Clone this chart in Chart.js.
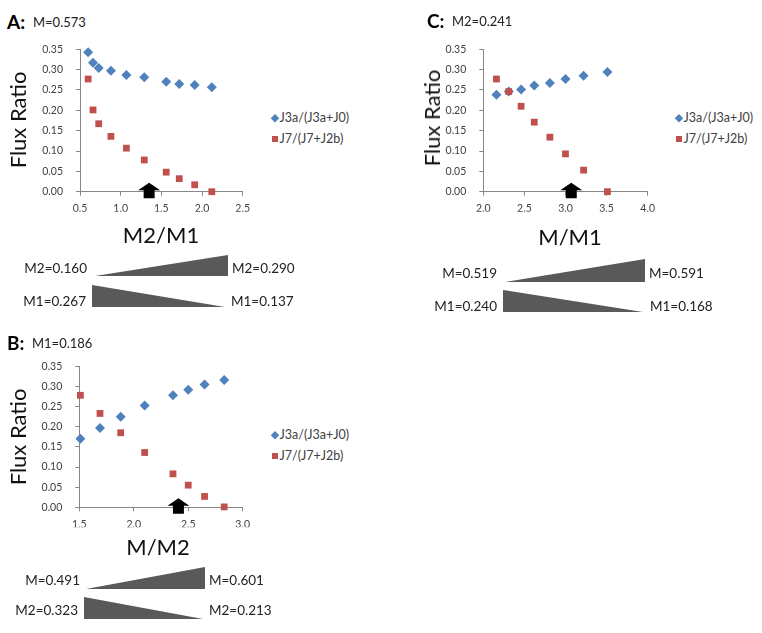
<!DOCTYPE html>
<html>
<head>
<meta charset="utf-8">
<script src="https://cdn.jsdelivr.net/npm/chart.js@4.4.0/dist/chart.umd.min.js"></script>
<style>
  body { margin: 0; background: #fff; width: 762px; height: 633px; position: relative; overflow: hidden; font-family: Lato, sans-serif; color: #222; }
  canvas { position: absolute; }
  .t { position: absolute; white-space: nowrap; line-height: 1; transform: translateY(-50%); }
  .r { transform: translate(-100%, -50%); }
  .c { transform: translate(-50%, -50%); }
  .v { transform: translate(-50%, -50%) rotate(-90deg); }
  .title { font-size: 19px; font-weight: bold; color: #000; }
  .sub { font-size: 13px; color: #222; }
  .axt { font-size: 22px; color: #111; }
  .wl { font-size: 13.5px; color: #222; }
  .lg { font-size: 12.5px; color: #404040; }
  .mk { position: absolute; width: 6px; height: 6px; transform: translate(-50%, -50%); }
  .mk.d { transform: translate(-50%, -50%) rotate(45deg); width: 5.5px; height: 5.5px; }
  svg { position: absolute; left: 0; top: 0; }
</style>
</head>
<body>

<svg width="762" height="633" id="wedges"></svg>

<canvas id="chartA"></canvas>
<canvas id="chartB"></canvas>
<canvas id="chartC"></canvas>

<!-- panel A -->
<div class="t title" style="left:7px;top:21px">A:</div>
<div class="t sub" style="left:33px;top:22px">M=0.573</div>
<div class="t v axt" style="left:18px;top:120px">Flux Ratio</div>
<div class="t c axt" style="left:161px;top:235px">M2/M1</div>
<div class="t r wl" style="left:87px;top:269px">M2=0.160</div>
<div class="t wl" style="left:232px;top:269px">M2=0.290</div>
<div class="t r wl" style="left:86px;top:302px">M1=0.267</div>
<div class="t wl" style="left:231px;top:302px">M1=0.137</div>

<!-- panel B -->
<div class="t title" style="left:7px;top:342px">B:</div>
<div class="t sub" style="left:32px;top:343px">M1=0.186</div>
<div class="t v axt" style="left:18px;top:437px">Flux Ratio</div>
<div class="t c axt" style="left:158px;top:547px">M/M2</div>
<div class="t r wl" style="left:80px;top:581px">M=0.491</div>
<div class="t wl" style="left:209px;top:581px">M=0.601</div>
<div class="t r wl" style="left:78px;top:611px">M2=0.323</div>
<div class="t wl" style="left:209px;top:611px">M2=0.213</div>

<!-- panel C -->
<div class="t title" style="left:427px;top:20px">C:</div>
<div class="t sub" style="left:452px;top:21px">M2=0.241</div>
<div class="t v axt" style="left:432px;top:118px">Flux Ratio</div>
<div class="t c axt" style="left:570px;top:237px">M/M1</div>
<div class="t r wl" style="left:497px;top:274px">M=0.519</div>
<div class="t wl" style="left:649px;top:274px">M=0.591</div>
<div class="t r wl" style="left:497px;top:307px">M1=0.240</div>
<div class="t wl" style="left:650px;top:307px">M1=0.168</div>

<div id="legends"></div>

<script>
// series labels
const seriesNames = ["J3a/(J3a+J0)", "J7/(J7+J2b)"];

// panel A: x = M2/M1
const aX   = [0.60, 0.66, 0.73, 0.88, 1.07, 1.29, 1.56, 1.72, 1.91, 2.12];
const aJ3a = [0.343, 0.317, 0.304, 0.297, 0.287, 0.281, 0.270, 0.265, 0.262, 0.257];
const aJ7  = [0.277, 0.201, 0.167, 0.136, 0.107, 0.078, 0.048, 0.032, 0.017, 0.000];
const aArrow = 1.35;

// panel B: x = M/M2
const bX   = [1.51, 1.69, 1.88, 2.10, 2.36, 2.50, 2.65, 2.83];
const bJ3a = [0.170, 0.197, 0.225, 0.253, 0.278, 0.292, 0.305, 0.316];
const bJ7  = [0.278, 0.233, 0.185, 0.136, 0.083, 0.055, 0.027, 0.001];
const bArrow = 2.41;

// panel C: x = M/M1
const cX   = [2.16, 2.31, 2.46, 2.62, 2.81, 3.00, 3.22, 3.51];
const cJ3a = [0.238, 0.246, 0.251, 0.261, 0.267, 0.277, 0.285, 0.294];
const cJ7  = [0.277, 0.246, 0.210, 0.171, 0.134, 0.093, 0.053, 0.000];
const cArrow = 3.07;

// axis ranges
const yRange = [0, 0.35];
const aRange = [0.5, 2.5];
const bRange = [1.5, 3.0];
const cRange = [2.0, 4.0];

const BLUE = "#4F81BD";
const RED  = "#C0504D";
const AXIS = "#868686";
const TICK = "#404040";

// black arrow sitting on the x axis
const arrowPlugin = {
  id: "arrow",
  afterDatasetsDraw(chart, args, opts) {
    const x = chart.scales.x.getPixelForValue(opts.value);
    const y = chart.scales.y.getPixelForValue(0);
    const ctx = chart.ctx;
    ctx.save();
    ctx.fillStyle = "#000";
    ctx.beginPath();
    ctx.moveTo(x, y - 9);
    ctx.lineTo(x + 11, y - 1.5);
    ctx.lineTo(x + 5.5, y - 1.5);
    ctx.lineTo(x + 5.5, y + 6.5);
    ctx.lineTo(x - 5.5, y + 6.5);
    ctx.lineTo(x - 5.5, y - 1.5);
    ctx.lineTo(x - 11, y - 1.5);
    ctx.closePath();
    ctx.fill();
    ctx.restore();
  }
};

function makeChart(id, xs, j3a, j7, xRange, arrowAt, box, area) {
  const el = document.getElementById(id);
  el.style.left = box.left + "px";
  el.style.top = box.top + "px";
  el.width = box.w;
  el.height = box.h;

  const Y_W = 40, X_H = 20;

  return new Chart(el, {
    type: "scatter",
    data: {
      datasets: [
        {
          label: seriesNames[0],
          data: xs.map((x, i) => ({ x, y: j3a[i] })),
          pointStyle: "rectRot",
          pointRadius: 5,
          backgroundColor: BLUE,
          borderColor: BLUE,
          borderWidth: 0,
          order: 2,
          clip: false,
        },
        {
          label: seriesNames[1],
          data: xs.map((x, i) => ({ x, y: j7[i] })),
          pointStyle: "rect",
          pointRadius: 4.8,
          backgroundColor: RED,
          borderColor: RED,
          borderWidth: 0,
          order: 1,
          clip: false,
        },
      ],
    },
    options: {
      responsive: false,
      animation: false,
      events: [],
      layout: {
        padding: {
          left: area.l - box.left - Y_W,
          right: box.left + box.w - area.r,
          top: area.t - box.top,
          bottom: box.top + box.h - X_H - area.b,
        },
      },
      plugins: {
        legend: { display: false },
        tooltip: { enabled: false },
        arrow: { value: arrowAt },
      },
      scales: {
        x: {
          type: "linear",
          min: xRange[0],
          max: xRange[1],
          afterFit: s => { s.height = X_H; },
          ticks: {
            stepSize: 0.5,
            maxRotation: 0,
            padding: 7,
            color: TICK,
            font: { family: "Lato", size: 10.5 },
            callback: v => v.toFixed(1),
          },
          grid: { drawOnChartArea: false, drawTicks: true, tickLength: 4, color: AXIS },
          border: { color: AXIS },
        },
        y: {
          min: yRange[0],
          max: yRange[1],
          afterFit: s => { s.width = Y_W; },
          ticks: {
            stepSize: 0.05,
            padding: 13,
            color: TICK,
            font: { family: "Lato", size: 10.5 },
            callback: v => v.toFixed(2),
          },
          grid: { drawOnChartArea: false, drawTicks: true, tickLength: 4, color: AXIS },
          border: { color: AXIS },
        },
      },
    },
    plugins: [arrowPlugin],
  });
}

makeChart("chartA", aX, aJ3a, aJ7, aRange, aArrow,
  { left: 30, top: 30, w: 230, h: 195 }, { l: 80, r: 242.7, t: 45.3, b: 191.7 });
makeChart("chartB", bX, bJ3a, bJ7, bRange, bArrow,
  { left: 30, top: 347, w: 230, h: 195 }, { l: 79.3, r: 242.7, t: 362, b: 507.3 });
makeChart("chartC", cX, cJ3a, cJ7, cRange, cArrow,
  { left: 433, top: 30, w: 230, h: 195 }, { l: 483.3, r: 647.7, t: 45.3, b: 191.7 });

// legends (HTML)
function addLegend(x, y1, y2) {
  const box = document.getElementById("legends");
  box.insertAdjacentHTML("beforeend",
    `<div class="mk d" style="left:${x}px;top:${y1}px;background:${BLUE}"></div>` +
    `<div class="t lg" style="left:${x + 5}px;top:${y1}px">${seriesNames[0]}</div>` +
    `<div class="mk" style="left:${x}px;top:${y2}px;background:${RED}"></div>` +
    `<div class="t lg" style="left:${x + 5}px;top:${y2}px">${seriesNames[1]}</div>`);
}
addLegend(274.5, 118, 139);
addLegend(274.5, 435, 456);
addLegend(678.5, 118, 139);

// grey wedges under each panel
const wedges = [
  [[95, 276], [228, 276], [228, 255]],
  [[92, 285], [92, 307], [225, 307]],
  [[86, 589], [205, 589], [205, 567]],
  [[84, 597], [84, 619], [203, 619]],
  [[505, 282], [645, 282], [645, 259]],
  [[503, 290], [503, 312], [643, 312]],
];
const svg = document.getElementById("wedges");
wedges.forEach(pts => {
  const p = document.createElementNS("http://www.w3.org/2000/svg", "polygon");
  p.setAttribute("points", pts.map(q => q.join(",")).join(" "));
  p.setAttribute("fill", "#595959");
  svg.appendChild(p);
});
</script>
</body>
</html>
